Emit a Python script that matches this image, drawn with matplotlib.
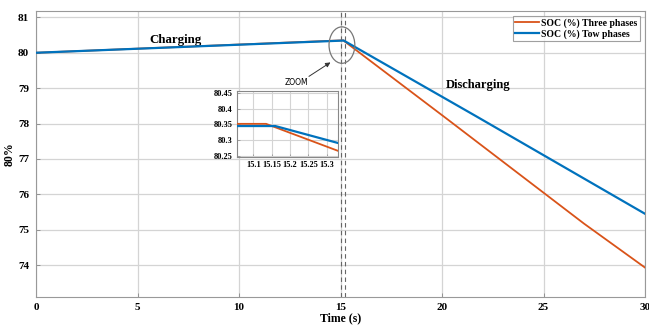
import matplotlib
matplotlib.use("Agg")
import matplotlib.pyplot as plt
from matplotlib.patches import Ellipse

# ---- data ----
t_three = [0.0, 15.13, 20.2, 27.0, 30.0]
soc_three = [80.0, 80.352, 78.15, 75.17, 73.93]
t_two = [0.0, 15.16, 21.7, 30.0]
soc_two = [80.0, 80.345, 78.20, 75.45]

# inset (zoom) data
tz_three = [15.05, 15.135, 15.33]
socz_three = [80.352, 80.352, 80.266]
tz_two = [15.05, 15.16, 15.33]
socz_two = [80.345, 80.345, 80.291]

x_ticks = [0, 5, 10, 15, 20, 25, 30]
y_ticks = [74, 75, 76, 77, 78, 79, 80, 81]
zx_ticks = [15.1, 15.15, 15.2, 15.25, 15.3]
zy_ticks = [80.25, 80.3, 80.35, 80.4, 80.45]
labels = ["SOC (%) Three phases", "SOC (%) Tow phases"]

ORANGE = "#D95319"
BLUE = "#0072BD"
GRID = "#d4d4d4"
SERIF = "Liberation Serif"

plt.rcParams["font.family"] = [SERIF, "DejaVu Serif"]

fig = plt.figure(figsize=(6.49, 3.25), dpi=100)
ax = fig.add_axes([36 / 649, 1 - 297.3 / 325, (645 - 36) / 649, (297.3 - 11) / 325])

ax.plot(t_three, soc_three, color=ORANGE, lw=1.3, label=labels[0], zorder=3)
ax.plot(t_two, soc_two, color=BLUE, lw=1.6, label=labels[1], zorder=4)

ax.set_xlim(0, 30)
ax.set_ylim(73.09, 81.18)
ax.set_xticks(x_ticks)
ax.set_yticks(y_ticks)
ax.set_xticklabels([str(v) for v in x_ticks], fontweight="bold", fontsize=8)
ax.set_yticklabels([str(v) for v in y_ticks], fontweight="bold", fontsize=8)
ax.grid(True, color=GRID, lw=0.9)
ax.tick_params(axis="x", length=3, width=0.6, color="#888888", direction="in", pad=4)
ax.tick_params(axis="y", length=3, width=0.6, color="#888888", direction="in", pad=5)
for s in ax.spines.values():
    s.set_color("#999999")
    s.set_linewidth(0.8)

ax.set_xlabel("Time (s)", fontweight="bold", fontsize=8.5, labelpad=0)
ax.set_ylabel("80%", fontweight="bold", fontsize=8.5, labelpad=2)

# dashed vertical markers
ax.axvline(15.0, color="#666666", lw=0.8, ls=(0, (4, 3)), zorder=2)
ax.axvline(15.22, color="#666666", lw=0.8, ls=(0, (4, 3)), zorder=2)

# ellipse and annotation
ax.add_patch(Ellipse((15.07, 80.217), 1.27, 1.03, fill=False, ec="#777777", lw=0.9, zorder=5))
ax.annotate("", xy=(14.62, 79.77), xytext=(13.33, 79.29),
            arrowprops=dict(arrowstyle="-|>", color="#333333", lw=0.7, mutation_scale=7))
ax.text(12.84, 79.15, "ZOOM", fontsize=5.5, family="DejaVu Sans", ha="center", va="center")

ax.text(5.6, 80.37, "Charging", fontsize=9.3, fontweight="bold", ha="left", va="center")
ax.text(20.2, 79.09, "Discharging", fontsize=9, fontweight="bold", ha="left", va="center")

leg = ax.legend(loc="upper right", prop={"weight": "bold", "size": 7},
                frameon=True, fancybox=False, borderpad=0.25, handlelength=2.4,
                handletextpad=0.3, labelspacing=0.15, borderaxespad=0.5)
leg.get_frame().set_edgecolor("#888888")
leg.get_frame().set_linewidth(0.8)

# inset
axi = fig.add_axes([236.7 / 649, 1 - 157.3 / 325, (337.7 - 236.7) / 649, (157.3 - 90.7) / 325])
axi.plot(tz_three, socz_three, color=ORANGE, lw=1.3, zorder=3)
axi.plot(tz_two, socz_two, color=BLUE, lw=1.6, zorder=4)
axi.set_xlim(15.055, 15.33)
axi.set_ylim(80.245, 80.458)
axi.set_xticks(zx_ticks)
axi.set_yticks(zy_ticks)
axi.set_xticklabels([f"{v:g}" for v in zx_ticks], fontweight="bold", fontsize=6)
axi.set_yticklabels([f"{v:g}" for v in zy_ticks], fontweight="bold", fontsize=6)
axi.grid(True, color=GRID, lw=0.8)
axi.tick_params(length=2, width=0.5, direction="in", pad=3, color="#888888")
for s in axi.spines.values():
    s.set_color("#888888")
    s.set_linewidth(0.8)

fig.savefig("out.png", dpi=100)
